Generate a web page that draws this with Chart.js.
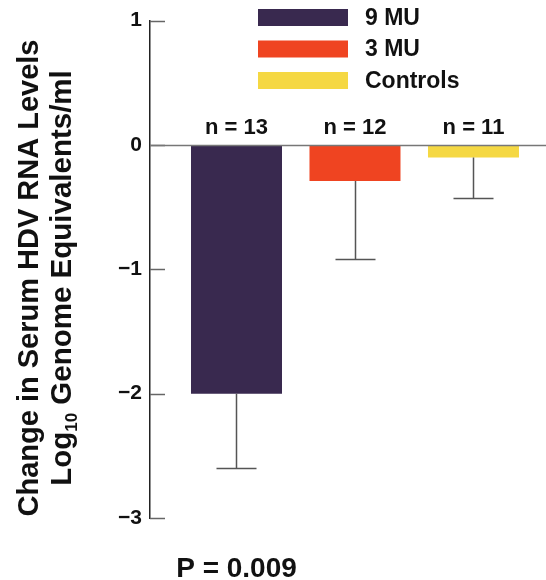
<!DOCTYPE html>
<html>
<head>
<meta charset="utf-8">
<title>HDV RNA change</title>
<script src="https://cdn.jsdelivr.net/npm/chart.js@4/dist/chart.umd.min.js"></script>
<style>
  html, body { margin: 0; padding: 0; background: #fff; }
  #wrap { width: 546px; height: 580px; }
</style>
</head>
<body>
<div id="wrap"><canvas id="chart" width="546" height="580"></canvas></div>
<script>
// données
const categories = ["9 MU", "3 MU", "Controls"];
const values     = [-2.0, -0.29, -0.1];
const errors     = [0.6, 0.63, 0.33];   // barre d'erreur vers le bas
const counts     = [13, 12, 11];
const colors     = ["#39294f", "#ef4421", "#f5d843"];
const yTicks     = [-3, -2, -1, 0, 1];
const pLabel     = "P = 0.009";

const FONT = '"Liberation Sans", Arial, Helvetica, sans-serif';
Chart.defaults.font.family = FONT;

const fmt = v => (v < 0 ? "\u2212" + Math.abs(v) : String(v));

// dessins additionnels : graduations internes, ligne zéro, erreurs, légende, titres
const extras = {
  id: "extras",
  afterDatasetsDraw(chart) {
    const { ctx, chartArea, scales } = chart;
    const x = scales.x, y = scales.y;
    const meta = chart.getDatasetMeta(0);
    ctx.save();

    // graduations vers l'intérieur
    ctx.strokeStyle = "#666";
    ctx.lineWidth = 1.5;
    yTicks.forEach(t => {
      const py = Math.round(y.getPixelForValue(t)) + 0.5;
      ctx.beginPath();
      ctx.moveTo(chartArea.left, py);
      ctx.lineTo(chartArea.left + 15, py);
      ctx.stroke();
    });

    // ligne zéro
    const y0 = Math.round(y.getPixelForValue(0)) + 0.5;
    ctx.strokeStyle = "#777";
    ctx.beginPath();
    ctx.moveTo(chartArea.left, y0);
    ctx.lineTo(chartArea.right, y0);
    ctx.stroke();

    // barres d'erreur
    ctx.strokeStyle = "#555";
    ctx.lineWidth = 1.5;
    meta.data.forEach((bar, i) => {
      const cx = Math.round(bar.x) + 0.5;
      const yb = y.getPixelForValue(values[i]);
      const ye = Math.round(y.getPixelForValue(values[i] - errors[i])) + 0.5;
      ctx.beginPath();
      ctx.moveTo(cx, yb);
      ctx.lineTo(cx, ye);
      ctx.moveTo(cx - 20, ye);
      ctx.lineTo(cx + 20, ye);
      ctx.stroke();
    });

    // effectifs au-dessus de la ligne zéro
    ctx.fillStyle = "#111";
    ctx.font = "bold 22px " + FONT;
    ctx.textAlign = "center";
    ctx.textBaseline = "alphabetic";
    meta.data.forEach((bar, i) => {
      ctx.fillText("n = " + counts[i], bar.x, y0 - 12);
    });

    // légende
    ctx.font = "bold 23px " + FONT;
    ctx.textAlign = "left";
    ctx.textBaseline = "middle";
    categories.forEach((c, i) => {
      const top = 9 + i * 31.5;
      ctx.fillStyle = colors[i];
      ctx.fillRect(258, top, 90, 17);
      ctx.fillStyle = "#111";
      ctx.fillText(c, 365, top + 9.5);
    });

    // titre de l'axe y (deux lignes, avec indice)
    ctx.textBaseline = "alphabetic";
    ctx.font = "bold 29px " + FONT;
    ctx.save();
    ctx.translate(38, 278);
    ctx.rotate(-Math.PI / 2);
    ctx.textAlign = "center";
    ctx.fillText("Change in Serum HDV RNA Levels", 0, 0);
    ctx.restore();

    ctx.save();
    ctx.translate(71, 278);
    ctx.rotate(-Math.PI / 2);
    ctx.textAlign = "left";
    const big = "bold 29.5px " + FONT, small = "bold 17px " + FONT;
    const parts = ["Log", "10", " Genome Equivalents/ml"];
    ctx.font = big;
    const w0 = ctx.measureText(parts[0]).width;
    const w2 = ctx.measureText(parts[2]).width;
    ctx.font = small;
    const w1 = ctx.measureText(parts[1]).width;
    let sx = -(w0 + w1 + w2) / 2;
    ctx.font = big;
    ctx.fillText(parts[0], sx, 0);
    sx += w0;
    ctx.font = small;
    ctx.fillText(parts[1], sx, 6);
    sx += w1;
    ctx.font = big;
    ctx.fillText(parts[2], sx, 0);
    ctx.restore();

    // valeur p
    ctx.font = "bold 28px " + FONT;
    ctx.textAlign = "center";
    ctx.fillText(pLabel, x.getPixelForValue(0), 577);

    ctx.restore();
  }
};

const ctx = document.getElementById("chart").getContext("2d");
new Chart(ctx, {
  type: "bar",
  data: {
    datasets: [{
      label: "HDV RNA",
      data: categories.map((c, i) => ({ x: i, y: values[i] })),
      backgroundColor: colors,
      borderWidth: 0,
      barPercentage: 0.768,
      categoryPercentage: 1
    }]
  },
  options: {
    responsive: false,
    animation: false,
    layout: { padding: { top: 19, bottom: 62, left: 0, right: 0 } },
    plugins: { legend: { display: false }, tooltip: { enabled: false } },
    scales: {
      x: {
        type: "linear",
        min: -0.73,
        max: 2.612,
        offset: false,
        display: false,
        afterBuildTicks: s => { s.ticks = categories.map((c, i) => ({ value: i })); }
      },
      y: {
        min: -3,
        max: 1,
        afterFit: s => { s.width = 150; },
        afterBuildTicks: s => { s.ticks = yTicks.map(v => ({ value: v })); },
        ticks: {
          callback: v => fmt(v),
          color: "#111",
          padding: 8,
          font: { size: 21, weight: "bold" }
        },
        grid: { display: false, drawTicks: false },
        border: { display: true, color: "#222", width: 1.5 }
      }
    }
  },
  plugins: [extras]
});
</script>
</body>
</html>
